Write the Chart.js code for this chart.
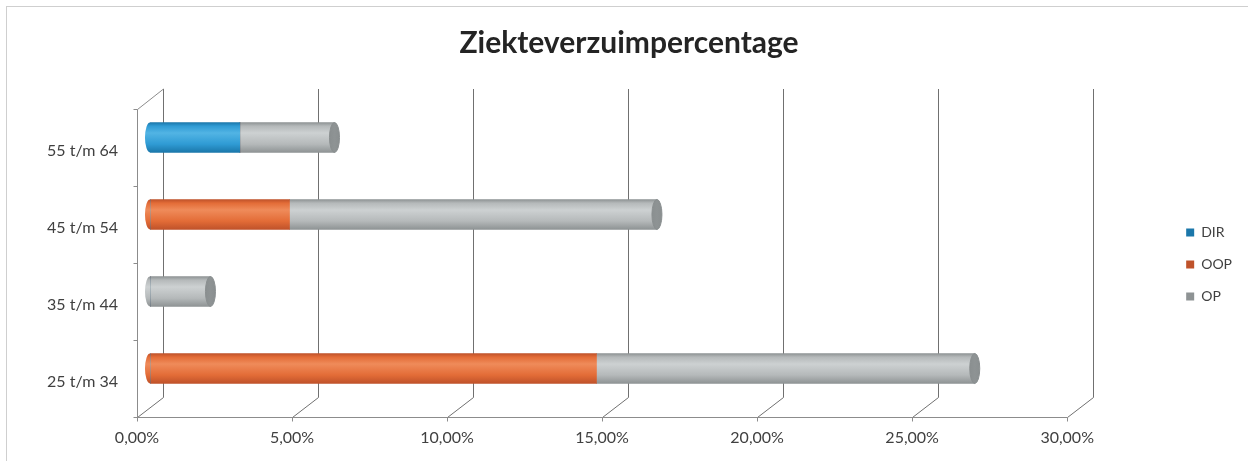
<!DOCTYPE html>
<html>
<head>
<meta charset="utf-8">
<script src="https://cdn.jsdelivr.net/npm/chart.js@4.4.1/dist/chart.umd.min.js"></script>
<style>
html,body{margin:0;padding:0;background:#ffffff;overflow:hidden;}
#wrap{position:absolute;left:0;top:0;width:1248px;height:461px;}
</style>
</head>
<body>
<div id="wrap"><canvas id="c" width="1248" height="461"></canvas></div>
<script>
// ---- data ----
const categories = ['55 t/m 64', '45 t/m 54', '35 t/m 44', '25 t/m 34'];
const seriesNames = ['DIR', 'OOP', 'OP'];
const dirValues = [2.9, 0, 0, 0];
const oopValues = [0, 4.5, 0, 14.4];
const opValues  = [3.05, 11.85, 1.95, 12.2];
const xTicks = [0, 5, 10, 15, 20, 25, 30];
const chartTitle = 'Ziekteverzuimpercentage';

// ---- styles ----
const palette = {
  DIR: {flat:'#2f9bd4', light:'#52b4e4', dark:'#1b77aa', cap:'#1d6f9c'},
  OOP: {flat:'#e36c37', light:'#ef8b5a', dark:'#bf522a', cap:'#b24c27'},
  OP:  {flat:'#b5b9ba', light:'#cdd1d2', dark:'#8e9394', cap:'#8a8f90'}
};
const BAR = 30;
const DX = 13, DY = 10;

function cylFill(key) {
  return (c) => {
    const p = palette[key];
    if (c.type !== 'data' || !c.chart.chartArea || !c.chart.scales.y) return p.flat;
    const cy = c.chart.scales.y.getPixelForValue(c.dataIndex);
    const g = c.chart.ctx.createLinearGradient(0, cy - BAR / 2, 0, cy + BAR / 2);
    g.addColorStop(0, p.dark);
    g.addColorStop(0.12, p.flat);
    g.addColorStop(0.35, p.light);
    g.addColorStop(0.72, p.flat);
    g.addColorStop(1, p.dark);
    return g;
  };
}

const chartBorder = {
  id: 'chartBorder',
  beforeDraw(chart) {
    const ctx = chart.ctx;
    ctx.save();
    ctx.strokeStyle = '#cfcfcf';
    ctx.lineWidth = 1;
    ctx.strokeRect(6.5, 6.5, chart.width + 20, chart.height + 20);
    ctx.restore();
  }
};

const frame3d = {
  id: 'frame3d',
  beforeDatasetsDraw(chart) {
    const {ctx, chartArea: a, scales: {x, y}} = chart;
    ctx.save();
    ctx.lineWidth = 1;
    // back grid lines + floor diagonals
    ctx.strokeStyle = '#707070';
    xTicks.forEach(v => {
      const px = Math.round(x.getPixelForValue(v)) + 0.5;
      ctx.beginPath();
      ctx.moveTo(px + DX, Math.round(a.top - DY));
      ctx.lineTo(px + DX, Math.round(a.bottom - DY) + 0.5);
      ctx.lineTo(px - DX, Math.round(a.bottom + DY) + 0.5);
      ctx.stroke();
    });
    // left wall: front vertical axis + top diagonal
    ctx.strokeStyle = '#8c8c8c';
    const lx = Math.round(a.left - DX) + 0.5;
    const fy = Math.round(a.bottom + DY) + 0.5;
    ctx.beginPath();
    ctx.moveTo(Math.round(a.left + DX) + 0.5, Math.round(a.top - DY));
    ctx.lineTo(lx, Math.round(a.top + DY) + 0.5);
    ctx.lineTo(lx, fy);
    ctx.lineTo(Math.round(x.getPixelForValue(xTicks[xTicks.length - 1]) - DX) + 0.5, fy);
    ctx.stroke();
    // category tick marks on the front axis
    ctx.beginPath();
    for (let i = 0; i <= categories.length; i++) {
      const yy = Math.round(y.getPixelForValue(i - 0.5) + DY) + 0.5;
      ctx.moveTo(lx - 4, yy);
      ctx.lineTo(lx, yy);
    }
    // value tick marks
    xTicks.forEach(v => {
      const px = Math.round(x.getPixelForValue(v) - DX) + 0.5;
      ctx.moveTo(px, fy);
      ctx.lineTo(px, fy + 4);
    });
    ctx.stroke();
    ctx.restore();
  }
};

const cylinderEnds = {
  id: 'cylinderEnds',
  afterDatasetsDraw(chart) {
    const ctx = chart.ctx;
    const metas = chart.data.datasets.map((d, i) => chart.getDatasetMeta(i));
    categories.forEach((_, i) => {
      const vis = metas.filter(m => m.data[i] && Math.abs(m.data[i].x - m.data[i].base) > 0.5);
      if (!vis.length) return;
      const first = vis[0].data[i];
      const lastMeta = vis[vis.length - 1];
      const last = lastMeta.data[i];
      const rx = 5, ry = first.height / 2;
      ctx.save();
      // rounded left end
      ctx.beginPath();
      ctx.ellipse(first.base, first.y, rx, ry, 0, Math.PI / 2, Math.PI * 1.5);
      ctx.closePath();
      ctx.fillStyle = first.options.backgroundColor;
      ctx.fill();
      // right end face
      const p = palette[chart.data.datasets[lastMeta.index].label];
      const g = ctx.createLinearGradient(last.x - rx, 0, last.x + rx, 0);
      g.addColorStop(0, p.cap);
      g.addColorStop(0.5, p.dark);
      g.addColorStop(1, p.cap);
      ctx.beginPath();
      ctx.ellipse(last.x, last.y, rx, ry, 0, 0, Math.PI * 2);
      ctx.fillStyle = g;
      ctx.fill();
      ctx.lineWidth = 1;
      ctx.strokeStyle = p.cap;
      ctx.stroke();
      ctx.restore();
    });
  }
};

function pct(v) { return Number(v).toFixed(2).replace('.', ',') + '%'; }

function build() {
  new Chart(document.getElementById('c'), {
    type: 'bar',
    data: {
      labels: categories,
      datasets: [
        {label: seriesNames[0], data: dirValues, backgroundColor: cylFill('DIR')},
        {label: seriesNames[1], data: oopValues, backgroundColor: cylFill('OOP')},
        {label: seriesNames[2], data: opValues,  backgroundColor: cylFill('OP')}
      ]
    },
    options: {
      responsive: false,
      animation: false,
      devicePixelRatio: 1,
      indexAxis: 'y',
      layout: {padding: {top: 0, left: 16, right: 6, bottom: 14}},
      datasets: {bar: {barThickness: BAR, borderWidth: 0}},
      plugins: {
        title: {
          display: true, text: chartTitle, color: '#242424',
          font: {family: 'Lato', size: 30, weight: 'bold'},
          padding: {top: 25, bottom: 38}
        },
        legend: {
          position: 'right', fullSize: false, align: 'center',
          title: {display: true, text: '', font: {size: 10}, padding: 5.5},
          labels: {
            boxWidth: 8, boxHeight: 8, padding: 18, color: '#404040',
            font: {family: 'Lato', size: 14}
          }
        },
        tooltip: {enabled: false}
      },
      scales: {
        x: {
          stacked: true, min: xTicks[0], max: xTicks[xTicks.length - 1],
          grid: {display: false, drawTicks: false}, border: {display: false},
          afterBuildTicks: s => { s.ticks = xTicks.map(v => ({value: v})); },
          ticks: {
            labelOffset: -DX, padding: 21, color: '#404040',
            font: {family: 'Lato', size: 16}, callback: v => pct(v)
          },
          afterFit: s => { s.height = 40; }
        },
        y: {
          stacked: true,
          grid: {display: false, drawTicks: false}, border: {display: false},
          ticks: {labelOffset: 13, padding: 32, color: '#404040', font: {family: 'Lato', size: 16}},
          afterFit: s => { s.width = 134; }
        },
        gap: {
          type: 'linear', position: 'right', display: true,
          grid: {display: false, drawTicks: false}, border: {display: false},
          ticks: {display: false},
          afterFit: s => { s.width = 88; }
        }
      }
    },
    plugins: [chartBorder, frame3d, cylinderEnds]
  });
}

if (document.fonts && document.fonts.load) {
  Promise.all([
    document.fonts.load('16px Lato'),
    document.fonts.load('bold 30px Lato')
  ]).then(build, build);
} else {
  build();
}
</script>
</body>
</html>
